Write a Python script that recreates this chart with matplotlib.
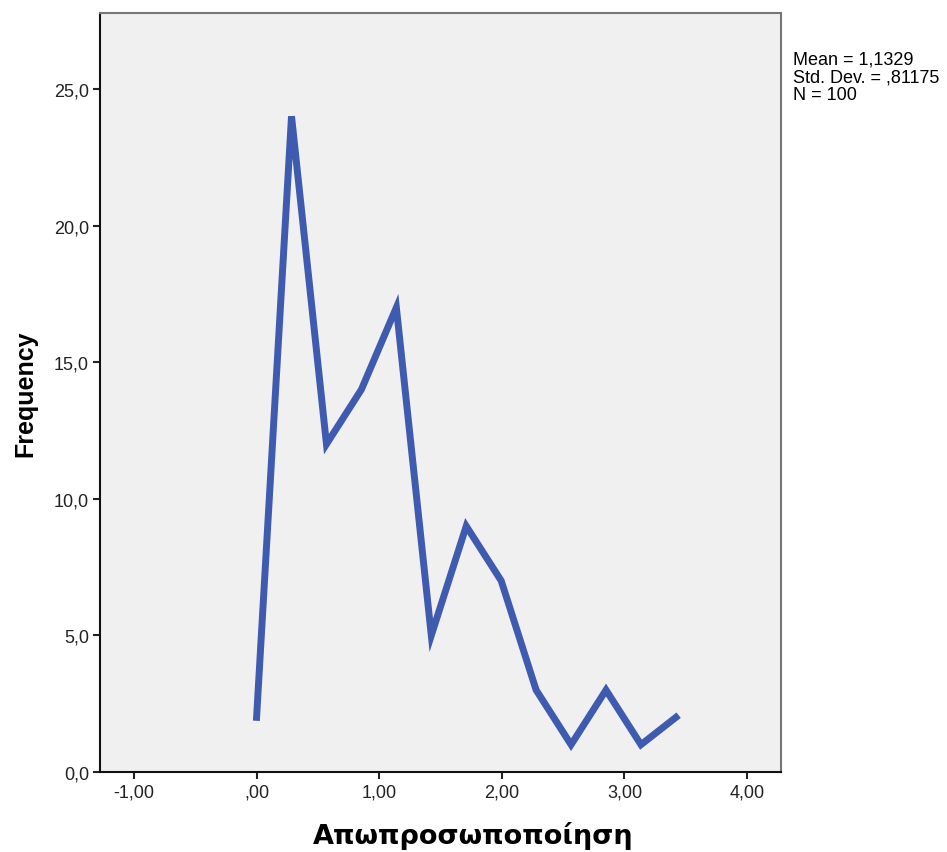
import matplotlib
matplotlib.use("Agg")
import matplotlib.pyplot as plt

# frequency polygon values
midpoints = [0.00, 0.285, 0.57, 0.855, 1.14, 1.425, 1.71, 1.995, 2.28, 2.565, 2.85, 3.135, 3.42]
counts = [2, 24, 12, 14, 17, 5, 9, 7, 3, 1, 3, 1, 2]
xticks = [-1, 0, 1, 2, 3, 4]
xtick_labels = ["-1,00", ",00", "1,00", "2,00", "3,00", "4,00"]
yticks = [0, 5, 10, 15, 20, 25]
ytick_labels = ["0,0", "5,0", "10,0", "15,0", "20,0", "25,0"]
stats = "Mean = 1,1329\nStd. Dev. = ,81175\nN = 100"

plt.rcParams['font.family'] = ['Liberation Sans', 'DejaVu Sans']

fig = plt.figure(figsize=(9.47, 8.53), dpi=100)
ax = fig.add_axes([0.1056, 0.0938, 0.7191, 0.8898])
ax.set_facecolor("#f0f0f0")

ax.plot(midpoints, counts, color="#3f5bb0", linewidth=5, solid_joinstyle="miter")

ax.set_xlim(-1.277, 4.277)
ax.set_ylim(0, 27.78)
ax.set_xticks(xticks)
ax.set_xticklabels(xtick_labels)
ax.set_yticks(yticks)
ax.set_yticklabels(ytick_labels)
ax.tick_params(direction="out", length=5, width=1.5, labelsize=13, colors="#222222", pad=3)

for side in ["left", "bottom"]:
    ax.spines[side].set_color("#111111")
    ax.spines[side].set_linewidth(1.5)
for side in ["top", "right"]:
    ax.spines[side].set_color("#777777")
    ax.spines[side].set_linewidth(1.5)

ax.set_ylabel("Frequency", fontsize=18, fontweight="bold", labelpad=12)
# x title sits centred on the whole figure, not the axes
fig.text(0.5, 0.02, "Απωπροσωποποίηση", fontsize=19.5, fontweight="bold",
         family=["DejaVu Sans"], ha="center", va="center")

fig.text(0.837, 0.94, stats, fontsize=13, va="top", ha="left",
         linespacing=1.08)

fig.savefig("out.png", dpi=100)
